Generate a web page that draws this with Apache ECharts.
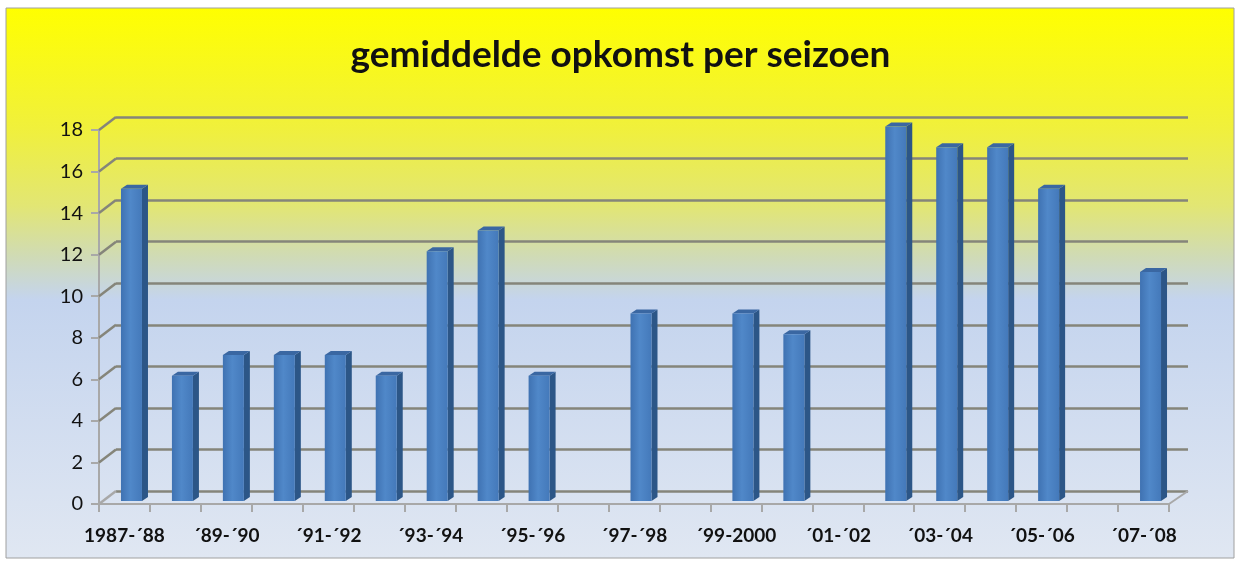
<!DOCTYPE html>
<html><head><meta charset="utf-8">
<script src="https://cdn.jsdelivr.net/npm/echarts@6/dist/echarts.min.js"></script>
<style>html,body{margin:0;padding:0;background:#fff}#c{width:1241px;height:564px}</style>
</head><body><div id="c"></div>
<script>
// ---- data ----
const chartTitle = 'gemiddelde opkomst per seizoen';
const seasons = ['1987-´88','´88-´89','´89-´90','´90-´91','´91-´92','´92-´93','´93-´94','´94-´95','´95-´96','´96-´97','´97-´98','´98-´99','´99-2000','´00-´01','´01-´02','´02-´03','´03-´04','´04-´05','´05-´06','´06-´07','´07-´08'];
const attendance = [15, 6, 7, 7, 7, 6, 12, 13, 6, null, 9, null, 9, 8, null, 18, 17, 17, 15, null, 11];
const yTicks = [0, 2, 4, 6, 8, 10, 12, 14, 16, 18];

// ---- style ----
const FONT = 'Lato';
const DX = 17, DY = -13;          // depth of the back wall
const chart = echarts.init(document.getElementById('c'));

const option = {
  animation: false,
  graphic: [{
    type: 'rect', z: -10, silent: true,
    shape: { x: 6, y: 8, width: 1228, height: 550 },
    style: {
      fill: new echarts.graphic.LinearGradient(0, 0, 0, 1, [
        { offset: 0, color: '#ffff00' },
        { offset: 0.22, color: '#f0f03c' },
        { offset: 0.36, color: '#e2e674' },
        { offset: 0.45, color: '#d0dbb4' },
        { offset: 0.53, color: '#c4d4ee' },
        { offset: 1, color: '#e0e7f2' }
      ]),
      stroke: '#a0a0a0', lineWidth: 1
    }
  }],
  title: {
    text: chartTitle, left: 'center', top: 32,
    textStyle: { fontFamily: FONT, fontWeight: 'bold', fontSize: 37, color: '#111' }
  },
  grid: [
    { left: 99, right: 72, top: 130, bottom: 60 },
    { left: 99 + DX, right: 72 - DX - 2, top: 130 + DY, bottom: 60 - DY }
  ],
  xAxis: [{
    type: 'category', gridIndex: 0, data: seasons, boundaryGap: true,
    axisLine: { lineStyle: { color: '#a8a8a8', width: 2 } },
    axisTick: { show: true, interval: 0, length: 8, lineStyle: { color: '#a8a8a8', width: 2 } },
    axisLabel: { interval: 1, margin: 22, fontFamily: FONT, fontWeight: 'bold', fontSize: 19, color: '#111' }
  }, {
    type: 'category', gridIndex: 1, data: seasons, show: false
  }],
  yAxis: [{
    type: 'value', gridIndex: 0, min: 0, max: 18, interval: 2,
    axisLine: { show: true, lineStyle: { color: '#a8a8a8', width: 2 } },
    axisTick: { show: true, length: 8, lineStyle: { color: '#a8a8a8', width: 2 } },
    axisLabel: { margin: 16, fontFamily: FONT, fontSize: 20, color: '#111' },
    splitLine: { show: false }
  }, {
    type: 'value', gridIndex: 1, min: 0, max: 18, interval: 2,
    axisLine: { show: false }, axisTick: { show: false }, axisLabel: { show: false },
    splitLine: { show: true, lineStyle: { color: '#85857a', width: 2.5 } }
  }],
  series: [{
    // depth connectors from front axis to the back wall
    type: 'custom', xAxisIndex: 0, yAxisIndex: 0, z: 1, silent: true,
    data: yTicks.map(v => [0, v]),
    renderItem: function (params, api) {
      const cs = params.coordSys;
      const y = api.coord([0, api.value(1)])[1];
      const children = [{
        type: 'line',
        shape: { x1: cs.x, y1: y, x2: cs.x + DX, y2: y + DY },
        style: { stroke: api.value(1) === 0 ? '#a8a8a8' : '#85857a', lineWidth: 2.5 }
      }];
      if (api.value(1) === 0) {
        children.push({
          type: 'line',
          shape: { x1: cs.x + cs.width, y1: y, x2: cs.x + cs.width + DX + 2, y2: y + DY },
          style: { stroke: '#a8a8a8', lineWidth: 2 }
        });
      }
      return { type: 'group', children: children };
    }
  }, {
    type: 'custom', xAxisIndex: 0, yAxisIndex: 0, z: 3,
    data: attendance.map((v, i) => [i, v == null ? '-' : v]),
    renderItem: function (params, api) {
      const v = api.value(1);
      if (v == null || isNaN(v)) return null;
      const base = api.coord([api.value(0), 0]);
      const top = api.coord([api.value(0), v]);
      const w = 21, sd = 6, td = 4;
      const x0 = base[0] - 3.5;
      const yb = base[1] - 3;
      const yt = top[1] - 3.5;
      return {
        type: 'group',
        children: [{
          type: 'polygon',
          shape: { points: [[x0 + w, yt], [x0 + w + sd, yt - td], [x0 + w + sd, yb - td], [x0 + w, yb]] },
          style: { fill: '#2c5687' }
        }, {
          type: 'polygon',
          shape: { points: [[x0, yt], [x0 + sd, yt - td], [x0 + w + sd, yt - td], [x0 + w, yt]] },
          style: { fill: '#3a67a2' }
        }, {
          type: 'rect',
          shape: { x: x0, y: yt, width: w, height: yb - yt },
          style: {
            fill: new echarts.graphic.LinearGradient(0, 0, 1, 0, [
              { offset: 0, color: '#3f72b2' },
              { offset: 0.45, color: '#5088c9' },
              { offset: 1, color: '#4479ba' }
            ])
          }
        }]
      };
    }
  }]
};
chart.setOption(option);
</script>
</body></html>
